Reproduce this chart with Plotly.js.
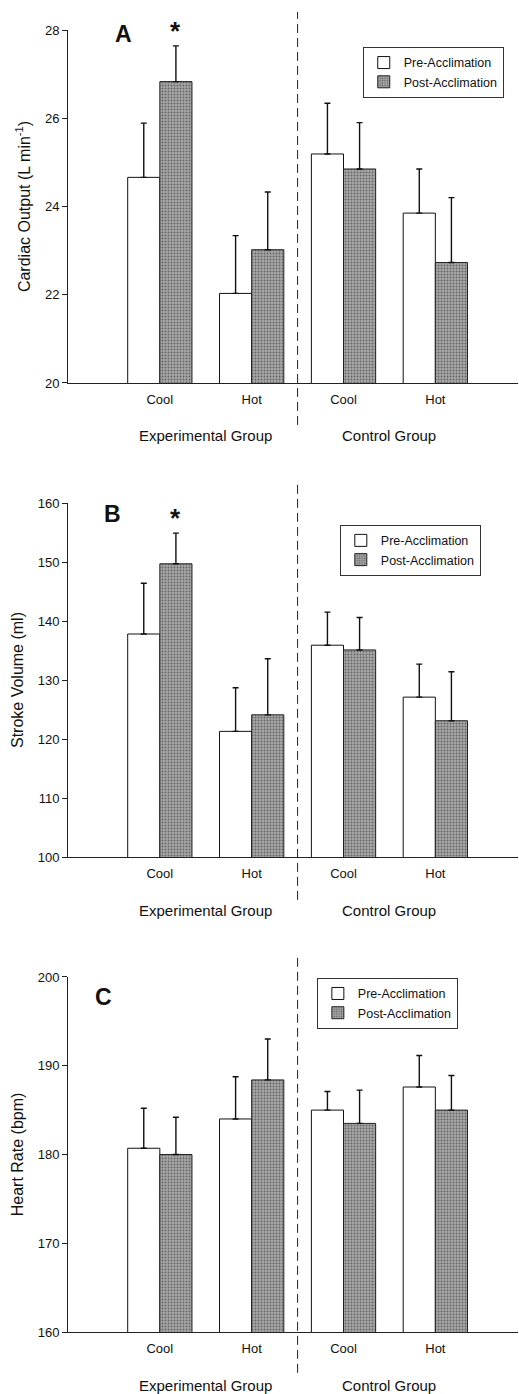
<!DOCTYPE html>
<html>
<head>
<meta charset="utf-8">
<script src="https://cdn.plot.ly/plotly-3.0.1.min.js"></script>
<style>html,body{margin:0;padding:0;background:#fff;}#chart{width:519px;height:1394px;}</style>
</head>
<body>
<div id="chart"></div>
<script>
// ---- data ----
const groups = ["Experimental Group", "Experimental Group", "Control Group", "Control Group"];
const conditions = ["Cool", "Hot", "Cool", "Hot"];
const seriesNames = ["Pre-Acclimation", "Post-Acclimation"];

// Panel A: Cardiac Output (L min-1)
const coPre = [24.66, 22.03, 25.19, 23.85];
const coPreErr = [1.23, 1.31, 1.15, 1.00];
const coPost = [26.83, 23.02, 24.85, 22.73];
const coPostErr = [0.81, 1.31, 1.05, 1.47];
const coPostSig = [true, false, false, false];

// Panel B: Stroke Volume (ml)
const svPre = [137.8, 121.3, 135.9, 127.1];
const svPreErr = [8.6, 7.4, 5.6, 5.6];
const svPost = [149.7, 124.1, 135.1, 123.1];
const svPostErr = [5.2, 9.5, 5.5, 8.3];
const svPostSig = [true, false, false, false];

// Panel C: Heart Rate (bpm)
const hrPre = [180.7, 184.0, 185.0, 187.6];
const hrPreErr = [4.5, 4.75, 2.1, 3.55];
const hrPost = [180.0, 188.4, 183.5, 185.0];
const hrPostErr = [4.2, 4.6, 3.75, 3.9];
const hrPostSig = [false, false, false, false];

const panelLetters = ["A", "B", "C"];
const yTitles = ["Cardiac Output (L min<sup>-1</sup>)", "Stroke Volume (ml)", "Heart Rate (bpm)"];
const yRanges = [[20, 28], [100, 160], [160, 200]];
const yDticks = [2, 10, 10];

// ---- build ----
const FONT = "Liberation Sans, Arial, Helvetica, sans-serif";
const xKeys = groups.map((g, i) => g + "|" + conditions[i]);
const uniqueGroups = [...new Set(groups)];

const panels = [
  {pre: coPre, preErr: coPreErr, post: coPost, postErr: coPostErr, sig: coPostSig},
  {pre: svPre, preErr: svPreErr, post: svPost, postErr: svPostErr, sig: svPostSig},
  {pre: hrPre, preErr: hrPreErr, post: hrPost, postErr: hrPostErr, sig: hrPostSig}
];

// layout geometry (fractions of the plotting area)
const domains = [[0.7289, 1.0], [0.3648, 0.6367], [0.0, 0.2727]];
const legendPos = [[0.655, 0.987], [0.604, 0.620], [0.553, 0.272]];
const letterPos = [[0.10, 0.99], [0.075, 0.969], [0.055, 0.944]];
const dashSpan = [[-0.119, 1.051], [-0.121, 1.056], [-0.115, 1.054]];

const traces = [];
const layout = {
  width: 519, height: 1394,
  margin: {l: 68, r: 1, t: 30, b: 62},
  paper_bgcolor: "#fff", plot_bgcolor: "#fff",
  font: {family: FONT, color: "#111", size: 13},
  barmode: "group", bargap: 0.3, bargroupgap: 0,
  showlegend: true,
  annotations: [], shapes: []
};

const errStyle = {color: "#111", thickness: 1.4, width: 3};

panels.forEach((p, k) => {
  const sfx = k === 0 ? "" : String(k + 1);
  const xa = "x" + sfx, ya = "y" + sfx;
  const lg = "legend" + sfx;
  traces.push({
    type: "bar", name: seriesNames[0], x: xKeys, y: p.pre,
    xaxis: xa, yaxis: ya, legend: lg,
    marker: {color: "#ffffff", line: {color: "#111", width: 1}},
    error_y: Object.assign({type: "data", symmetric: false, array: p.preErr, arrayminus: p.preErr.map(() => 0)}, errStyle),
    hoverinfo: "y"
  });
  traces.push({
    type: "bar", name: seriesNames[1], x: xKeys, y: p.post,
    xaxis: xa, yaxis: ya, legend: lg,
    marker: {color: "#9e9e9e", line: {color: "#222", width: 1},
             pattern: {shape: ".", bgcolor: "#a8a8a8", fgcolor: "#666666", size: 3, solidity: 0.35}},
    error_y: Object.assign({type: "data", symmetric: false, array: p.postErr, arrayminus: p.postErr.map(() => 0)}, errStyle),
    hoverinfo: "y"
  });

  layout["xaxis" + sfx] = {
    anchor: ya, domain: [0, 1], type: "category",
    range: [-1.0, 3.9],
    tickvals: xKeys, ticktext: conditions,
    showline: true, linecolor: "#222", linewidth: 1,
    ticks: "", showgrid: false, zeroline: false,
    ticklabelstandoff: 4,
    tickfont: {size: 13, family: FONT, color: "#111"}
  };
  layout["yaxis" + sfx] = {
    anchor: xa, domain: domains[k],
    range: yRanges[k], dtick: yDticks[k],
    showline: true, linecolor: "#222", linewidth: 1,
    ticks: "outside", ticklen: 5, tickcolor: "#222",
    showgrid: false, zeroline: false,
    tickfont: {size: 13, family: FONT, color: "#111"},
    title: {text: yTitles[k], font: {size: 16, family: FONT, color: "#111"}, standoff: 10}
  };
  layout[lg] = {
    x: legendPos[k][0], y: legendPos[k][1], xanchor: "left", yanchor: "top",
    xref: "paper", yref: "paper",
    bgcolor: "#fff", bordercolor: "#333", borderwidth: 1,
    font: {size: 12.5, family: FONT, color: "#111"},
    entrywidth: 130, entrywidthmode: "pixels", tracegroupgap: 0
  };

  // panel letter
  layout.annotations.push({
    xref: xa + " domain", yref: ya + " domain",
    x: letterPos[k][0], y: letterPos[k][1], xanchor: "left", yanchor: "middle",
    text: "<b>" + panelLetters[k] + "</b>", showarrow: false,
    font: {size: 23, family: FONT, color: "#111"}
  });

  // significance markers
  p.sig.forEach((s, i) => {
    if (!s) return;
    layout.annotations.push({
      xref: xa, yref: ya, x: xKeys[i], y: p.post[i] + p.postErr[i],
      xshift: 16, yshift: 15, xanchor: "center", yanchor: "middle",
      text: "<b>*</b>", showarrow: false,
      font: {size: 26, family: FONT, color: "#111"}
    });
  });

  // group labels
  uniqueGroups.forEach(g => {
    const idx = groups.map((gg, i) => gg === g ? i : null).filter(v => v !== null);
    const mid = idx.reduce((a, b) => a + b, 0) / idx.length;
    layout.annotations.push({
      xref: xa, yref: ya + " domain", x: mid, y: 0,
      yshift: -53, xanchor: "center", yanchor: "middle",
      text: g, showarrow: false,
      font: {size: 15, family: FONT, color: "#111"}
    });
  });

  // dashed divider between groups
  const lastExp = groups.lastIndexOf(uniqueGroups[0]);
  layout.shapes.push({
    type: "line", xref: xa, yref: ya + " domain",
    x0: lastExp + 0.5, x1: lastExp + 0.5, y0: dashSpan[k][0], y1: dashSpan[k][1],
    line: {color: "#222", width: 1, dash: "9px,5px"}
  });
});

Plotly.newPlot("chart", traces, layout, {staticPlot: true, displayModeBar: false});
</script>
</body>
</html>
